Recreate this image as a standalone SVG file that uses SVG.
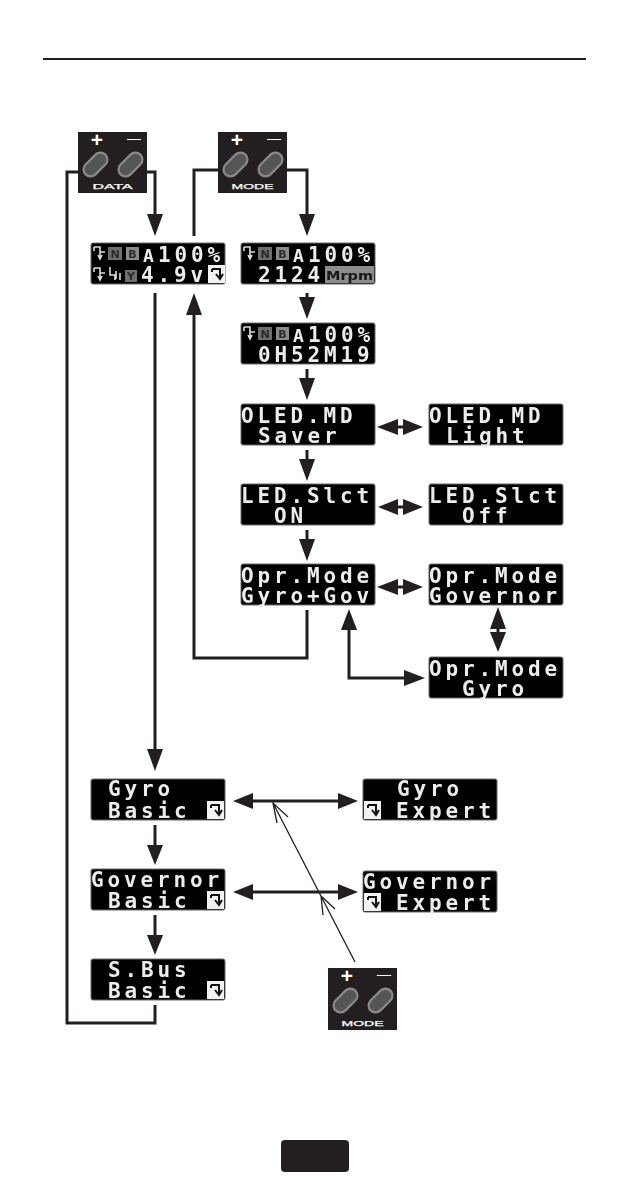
<svg xmlns="http://www.w3.org/2000/svg" width="629" height="1191" viewBox="0 0 629 1191">
<style>
.lcd{fill:#000;stroke:#6a6a6a;stroke-width:1}
.t{font-family:"DejaVu Sans Mono","Liberation Mono",monospace;font-weight:700;font-size:21px;letter-spacing:3.86px;fill:#ececec;filter:url(#b)}
.ic{fill:none;stroke:#ddd;stroke-width:1.6;filter:url(#b)}
.g{fill:#6e6e6e}
.g2{fill:#8a8a8a}
.s{font-family:"DejaVu Sans",sans-serif;font-weight:700;font-size:11px;fill:#2a2a2a;filter:url(#b);text-anchor:middle}
.m{font-family:"DejaVu Sans",sans-serif;font-weight:700;font-size:13px;fill:#151515;filter:url(#b)}
.a{font-family:"DejaVu Sans Mono",monospace;font-weight:700;font-size:18px;fill:#ececec;filter:url(#b)}
.c{fill:none;stroke:#231f20;stroke-width:3}
.h{fill:#231f20}
.thin{fill:none;stroke:#231f20;stroke-width:1.3}
.pad{fill:#231f20}
.btn{fill:#555;stroke:#8a8a8a;stroke-width:2.2}
.pm{font-family:"Liberation Sans",sans-serif;font-weight:700;fill:#fff;text-anchor:middle}
.mn{font-family:"Liberation Sans",sans-serif;font-weight:400;fill:#fff;text-anchor:middle}
.k{font-family:"Liberation Sans",sans-serif;font-weight:400;font-size:8px;fill:#fff;stroke:#fff;stroke-width:.25;text-anchor:middle}
</style>
<defs>
<filter id="b" x="-10%" y="-20%" width="120%" height="140%"><feGaussianBlur stdDeviation="0.6"/></filter>
<g id="btns">
<rect class="btn" x="-14" y="-7" width="28" height="14" rx="7" transform="translate(17.5 32.5) rotate(-45)"/>
<rect class="btn" x="-14" y="-7" width="28" height="14" rx="7" transform="translate(52.5 32.5) rotate(-45)"/>
</g>
<g id="ret"><rect width="17" height="18" fill="#f2f2f2"/><path d="M4 4H12V12M8 9L12 14L15 9M4 4V7" fill="none" stroke="#111" stroke-width="2"/></g>
<g id="sig"><path d="M2 2H8V7H13M8 7V13M6 10L8 14L10 10M2 2V6" class="ic"/></g>
</defs>
<rect width="629" height="1191" fill="#fff"/>
<rect x="43" y="58" width="543" height="2" fill="#231f20"/>
<rect id="page" x="281" y="1140" width="68" height="32" rx="4" fill="#231f20"/>

<g id="connectors">
<path class="c" d="M147 172H155V216"/><path class="h" d="M147 214H163L155 236Z"/>
<path class="c" d="M78 172H67V1023H155V1005"/>
<path class="c" d="M218 170H194V236"/>
<path class="c" d="M287 170H307V216"/><path class="h" d="M299 214H315L307 236Z"/>
<path class="c" d="M155 293V752"/><path class="h" d="M147 749H163L155 771Z"/>
<path class="c" d="M307 610V658H194V312"/><path class="h" d="M186 315H202L194 293Z"/>
<path class="c" d="M307 293V300"/><path class="h" d="M299 297H315L307 319Z"/>
<path class="c" d="M307 369V380"/><path class="h" d="M299 378H315L307 400Z"/>
<path class="c" d="M307 450V461"/><path class="h" d="M299 459H315L307 481Z"/>
<path class="c" d="M307 530V541"/><path class="h" d="M299 539H315L307 561Z"/>
<path class="c" d="M396 427H404"/><path class="h" d="M377 427L398 419V435Z"/><path class="h" d="M423 427L403 419V435Z"/>
<path class="c" d="M396 507H404"/><path class="h" d="M378 507L398 499V515Z"/><path class="h" d="M423 507L403 499V515Z"/>
<path class="c" d="M396 587H404"/><path class="h" d="M377 587L398 579V595Z"/><path class="h" d="M423 587L403 579V595Z"/>
<path class="c" d="M498 627V633"/><path class="h" d="M498 607L490 629H506Z"/><path class="h" d="M498 652L490 632H506Z"/>
<path class="c" d="M349 628V678H406"/><path class="h" d="M349 609L341 630H357Z"/><path class="h" d="M425 678L404 670V686Z"/>
<path class="c" d="M252 801H340"/><path class="h" d="M233 801L253 793V809Z"/><path class="h" d="M358 801L338 793V809Z"/>
<path class="c" d="M252 892H340"/><path class="h" d="M233 892L253 884V900Z"/><path class="h" d="M358 892L338 884V900Z"/>
<path class="c" d="M155 825V847"/><path class="h" d="M147 845H163L155 865Z"/>
<path class="c" d="M155 915V937"/><path class="h" d="M147 935H163L155 955Z"/>
<path class="thin" d="M355 962L273 803M288 817L273 803L277 823M335 909L321 896L323 915"/>
</g>

<g id="data-key" transform="translate(78 132)"><rect class="pad" width="69" height="61"/><use href="#btns"/><text class="pm" x="19" y="15" font-size="21">+</text><text class="mn" x="56" y="11" font-size="14">—</text><text class="k" x="34.5" y="56.5" textLength="40" lengthAdjust="spacingAndGlyphs">DATA</text></g>
<g id="mode-key-1" transform="translate(218 132)"><rect class="pad" width="69" height="61"/><use href="#btns"/><text class="pm" x="19" y="15" font-size="21">+</text><text class="mn" x="56" y="11" font-size="14">—</text><text class="k" x="34.5" y="56.5" textLength="42" lengthAdjust="spacingAndGlyphs">MODE</text></g>
<g id="mode-key-2" transform="translate(328 968)"><rect class="pad" width="69" height="62"/><use href="#btns"/><text class="pm" x="19" y="15" font-size="21">+</text><text class="mn" x="56" y="11" font-size="14">—</text><text class="k" x="34.5" y="58" textLength="42" lengthAdjust="spacingAndGlyphs">MODE</text></g>

<g id="lcd-voltage" transform="translate(91 243)"><rect class="lcd" width="134" height="41" rx="2"/>
<use href="#sig" x="1" y="2"/><rect class="g" x="17" y="4" width="14" height="13"/><text class="s" x="24" y="15">N</text><rect class="g2" x="35" y="4" width="13" height="13"/><text class="s" x="41.5" y="15">B</text><text class="a" x="52" y="19">A</text><text class="t" x="67" y="19">100%</text>
<use href="#sig" x="1" y="23"/><path class="ic" d="M19 24V32H24V37M25 28V36M29 30V37"/><rect class="g" x="34" y="27" width="12" height="12"/><text class="s" x="40" y="37">Y</text><text class="t" x="50" y="39">4.9v</text><use href="#ret" x="117" y="22"/></g>

<g id="lcd-rpm" transform="translate(241 243)"><rect class="lcd" width="134" height="41" rx="2"/>
<use href="#sig" x="1" y="2"/><rect class="g" x="17" y="4" width="14" height="13"/><text class="s" x="24" y="15">N</text><rect class="g2" x="35" y="4" width="13" height="13"/><text class="s" x="41.5" y="15">B</text><text class="a" x="52" y="19">A</text><text class="t" x="67" y="19">100%</text>
<text class="t" x="17" y="39">2124</text><rect x="84" y="23" width="49" height="17" fill="#8c8c8c"/><text class="m" x="85" y="37" textLength="47" lengthAdjust="spacingAndGlyphs">Mrpm</text></g>

<g id="lcd-time" transform="translate(241 323)"><rect class="lcd" width="134" height="41" rx="2"/>
<use href="#sig" x="1" y="2"/><rect class="g" x="17" y="4" width="14" height="13"/><text class="s" x="24" y="15">N</text><rect class="g2" x="35" y="4" width="13" height="13"/><text class="s" x="41.5" y="15">B</text><text class="a" x="52" y="19">A</text><text class="t" x="67" y="19">100%</text>
<text class="t" x="17" y="39">0H52M19</text></g>

<g id="oled-saver" transform="translate(241 404)"><rect class="lcd" width="134" height="41" rx="2"/><text class="t" x="0" y="19">OLED.MD</text><text class="t" x="17" y="39">Saver</text></g>
<g id="oled-light" transform="translate(429 404)"><rect class="lcd" width="134" height="41" rx="2"/><text class="t" x="0" y="19">OLED.MD</text><text class="t" x="17" y="39">Light</text></g>
<g id="led-on" transform="translate(241 484)"><rect class="lcd" width="134" height="41" rx="2"/><text class="t" x="0" y="19">LED.Slct</text><text class="t" x="33" y="39">ON</text></g>
<g id="led-off" transform="translate(429 484)"><rect class="lcd" width="134" height="41" rx="2"/><text class="t" x="0" y="19">LED.Slct</text><text class="t" x="33" y="39">Off</text></g>
<g id="opr-gyrogov" transform="translate(241 564)"><rect class="lcd" width="134" height="41" rx="2"/><text class="t" x="0" y="19">Opr.Mode</text><text class="t" x="0" y="39">Gyro+Gov</text></g>
<g id="opr-governor" transform="translate(429 564)"><rect class="lcd" width="134" height="41" rx="2"/><text class="t" x="0" y="19">Opr.Mode</text><text class="t" x="0" y="39">Governor</text></g>
<g id="opr-gyro" transform="translate(429 657)"><rect class="lcd" width="134" height="41" rx="2"/><text class="t" x="0" y="19">Opr.Mode</text><text class="t" x="33" y="39">Gyro</text></g>
<g id="gyro-basic" transform="translate(91 779)"><rect class="lcd" width="134" height="41" rx="2"/><text class="t" x="17" y="17">Gyro</text><text class="t" x="17" y="39">Basic</text><use href="#ret" x="116" y="22"/></g>
<g id="gyro-expert" transform="translate(363 779)"><rect class="lcd" width="134" height="41" rx="2"/><text class="t" x="34" y="17">Gyro</text><use href="#ret" x="1" y="22"/><text class="t" x="33" y="39">Expert</text></g>
<g id="governor-basic" transform="translate(91 869)"><rect class="lcd" width="134" height="41" rx="2"/><text class="t" x="0" y="18">Governor</text><text class="t" x="17" y="39">Basic</text><use href="#ret" x="116" y="22"/></g>
<g id="governor-expert" transform="translate(363 871)"><rect class="lcd" width="134" height="41" rx="2"/><text class="t" x="0" y="18">Governor</text><use href="#ret" x="1" y="22"/><text class="t" x="33" y="39">Expert</text></g>
<g id="sbus-basic" transform="translate(91 959)"><rect class="lcd" width="134" height="41" rx="2"/><text class="t" x="17" y="18">S.Bus</text><text class="t" x="17" y="39">Basic</text><use href="#ret" x="116" y="22"/></g>
</svg>
